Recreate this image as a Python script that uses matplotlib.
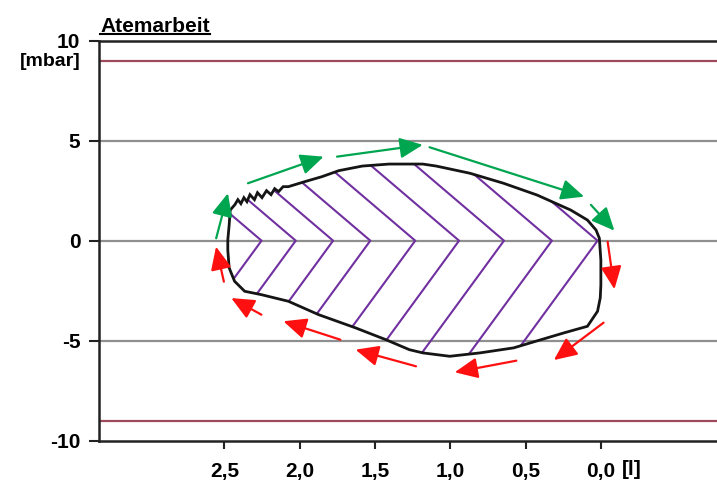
import matplotlib.pyplot as plt
from matplotlib.patches import Polygon
from matplotlib.lines import Line2D

# loop trace: volume [l], pressure [mbar]
vol = [2.477, 2.468, 2.461, 2.43, 2.41, 2.39, 2.37, 2.35, 2.33, 2.30, 2.28,
       2.25, 2.22, 2.19, 2.166, 2.14, 2.11, 2.075, 1.966, 1.852, 1.740, 1.584,
       1.406, 1.183, 1.094, 0.870, 0.647, 0.424, 0.201, 0.090, 0.033, 0.011,
       0.001, 0.001, 0.005, 0.023, 0.090, 0.246, 0.469, 0.580, 0.803, 1.004,
       1.183, 1.272, 1.428, 1.629, 1.874, 2.075, 2.254, 2.365, 2.432, 2.468,
       2.477]
pres = [0.03, 0.78, 1.53, 1.80, 2.05, 1.85, 2.15, 1.95, 2.30, 2.05, 2.40,
        2.15, 2.50, 2.30, 2.60, 2.45, 2.70, 2.70, 2.95, 3.20, 3.50, 3.73,
        3.83, 3.83, 3.73, 3.37, 2.87, 2.28, 1.53, 1.03, 0.53, 0.12,
        -0.97, -2.22, -2.86, -3.53, -4.28, -4.61, -5.11, -5.36, -5.61, -5.78,
        -5.61, -5.45, -4.95, -4.36, -3.70, -3.03, -2.70, -2.53, -2.03, -1.36,
        -0.47]

# chevron tips of the hatching (on the zero line)
hatch_x = [2.253, 2.026, 1.778, 1.531, 1.233, 0.942, 0.644, 0.326, 0.023]
up_slope = 6.42     # mbar per l, upper arms
down_slope = 10.3   # lower arms

# direction arrows (start, end)
green_arrows = [((2.554, 0.12), (2.476, 2.37)), ((2.343, 2.87), (1.841, 4.20)),
                ((1.752, 4.20), (1.183, 4.79)), ((1.138, 4.67), (0.112, 2.20)),
                ((0.067, 1.79), (-0.089, 0.50))]
red_arrows = [((-0.044, -0.05), (-0.089, -2.43)), ((-0.017, -4.10), (0.313, -5.97)),
              ((0.562, -6.00), (0.971, -6.58)), ((1.228, -6.28), (1.629, -5.45)),
              ((1.730, -4.95), (2.108, -4.03)), ((2.254, -3.70), (2.454, -2.87)),
              ((2.503, -2.05), (2.555, -0.30))]

x_ticks = [2.5, 2.0, 1.5, 1.0, 0.5, 0.0]
x_labels = ['2,5', '2,0', '1,5', '1,0', '0,5', '0,0']
y_ticks = [-10, -5, 0, 5, 10]
grid_y = [-5, 0, 5]
limit_y = [-9, 9]

plt.rcParams['font.family'] = ['Liberation Sans', 'DejaVu Sans']

fig = plt.figure(figsize=(7.17, 4.82), dpi=100)
ax = fig.add_axes([0.1374, 0.0857, 0.87, 0.830])
ax.set_xlim(3.335, -0.805)
ax.set_ylim(-10, 10)

for g in grid_y:
    ax.axhline(g, color='#8f8f8f', lw=1.6, zorder=1)
for g in limit_y:
    ax.axhline(g, color='#9c4a5c', lw=1.6, zorder=1)

loop = Polygon(list(zip(vol, pres)), closed=True, facecolor='none',
               edgecolor='#151515', lw=2.0, zorder=4)
ax.add_patch(loop)

for xv in hatch_x:
    L = 1.5
    ln, = ax.plot([xv + L, xv, xv + L], [up_slope * L, 0, -down_slope * L],
                  color='#7030a0', lw=1.5, zorder=3)
    ln.set_clip_path(loop)

for arrows, col in [(green_arrows, '#00a550'), (red_arrows, '#ff1010')]:
    for (x0, y0), (x1, y1) in arrows:
        ax.annotate('', xy=(x1, y1), xytext=(x0, y0),
                    arrowprops=dict(arrowstyle='-|>,head_length=1.0,head_width=0.45',
                                    mutation_scale=14, color=col, lw=1.6,
                                    shrinkA=0, shrinkB=0), zorder=5)

ax.spines['right'].set_visible(False)
for s in ['left', 'top', 'bottom']:
    ax.spines[s].set_linewidth(1.8)
    ax.spines[s].set_color('#222222')

ax.set_xticks(x_ticks)
ax.set_xticklabels(x_labels, fontsize=15, fontweight='bold')
ax.set_yticks(y_ticks)
ax.set_yticklabels([str(v) for v in y_ticks], fontsize=15, fontweight='bold')
ax.tick_params(axis='x', length=6, width=1.5, pad=9, color='#222222')
ax.tick_params(axis='y', length=7, width=1.5, pad=6, color='#222222')

ax.text(-0.14, -10.95, '[l]', fontsize=15, fontweight='bold', va='top', ha='left')
ax.text(-0.028, 0.947, '[mbar]', transform=ax.transAxes, fontsize=14,
        fontweight='bold', ha='right', va='center')

title = fig.text(0.1395, 0.925, 'Atemarbeit', fontsize=15, fontweight='bold',
                 ha='left', va='bottom')
fig.canvas.draw()
bb = title.get_window_extent().transformed(fig.transFigure.inverted())
fig.add_artist(Line2D([bb.x0, bb.x1], [bb.y0 + 0.004, bb.y0 + 0.004],
                      transform=fig.transFigure, color='black', lw=1.5))

plt.savefig('out.png', dpi=100)
